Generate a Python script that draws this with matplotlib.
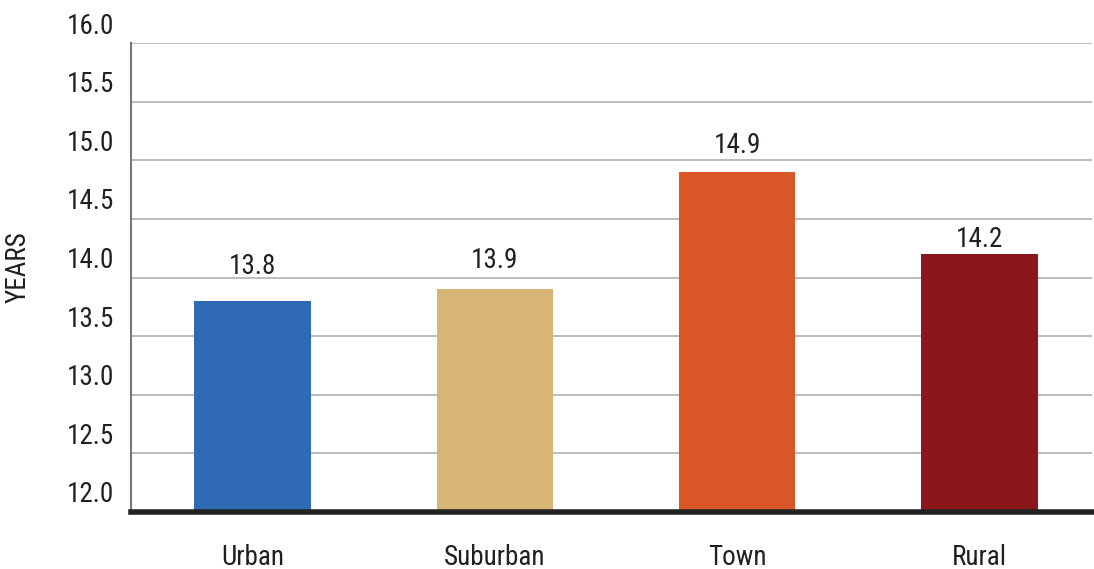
import matplotlib.pyplot as plt
import matplotlib.transforms as mtransforms
from matplotlib import font_manager

categories = ['Urban', 'Suburban', 'Town', 'Rural']
years = [13.8, 13.9, 14.9, 14.2]
colors = ['#2E6BB4', '#D7B577', '#D95627', '#8B161B']
yticks = [12.0, 12.5, 13.0, 13.5, 14.0, 14.5, 15.0, 15.5, 16.0]

# gap in pixels between bar top and the baseline of its value label
label_gap = [27, 21, 19, 7]

names = {f.name for f in font_manager.fontManager.ttflist}
fam = 'DejaVu Sans'
for cand in ['Roboto Condensed', 'Liberation Sans Narrow', 'Archivo Narrow', 'Barlow Condensed']:
    if cand in names:
        fam = cand
        break
plt.rcParams['font.family'] = [fam, 'DejaVu Sans']

txt_color = '#231F20'
fs = 19.5

fig = plt.figure(figsize=(10.94, 5.69), dpi=100)
ax = fig.add_axes([131 / 1094, 1 - 512 / 569, (1092 - 131) / 1094, (512 - 43) / 569])

x = list(range(len(categories)))
ax.bar(x, [v - 12 for v in years], bottom=12, width=0.48, color=colors, zorder=3)
for xi, v, g in zip(x, years, label_gap):
    ax.annotate(f'{v:.1f}', (xi, v), xytext=(0, g * 0.72), textcoords='offset points',
                ha='center', va='baseline', fontsize=fs, color=txt_color)

ax.set_ylim(12, 16)
ax.set_xlim(-0.501, 3.464)
ax.set_yticks(yticks)
ax.set_yticklabels([f'{t:.1f}' for t in yticks], fontsize=fs, color=txt_color)
ax.set_xticks(x)
ax.set_xticklabels(categories, fontsize=fs, color=txt_color)
ax.tick_params(axis='both', length=0)
ax.tick_params(axis='y', pad=12)
ax.tick_params(axis='x', pad=23)

# labels sit above their gridlines in the original
offset = mtransforms.ScaledTranslation(0, 20 / 100, fig.dpi_scale_trans)
for lbl in ax.get_yticklabels():
    lbl.set_transform(lbl.get_transform() + offset)

ax.grid(axis='y', color='#b0b0b0', linewidth=1.2, zorder=0)
ax.spines['top'].set_visible(False)
ax.spines['right'].set_visible(False)
ax.spines['left'].set_color('#777777')
ax.spines['left'].set_linewidth(1.5)
ax.spines['bottom'].set_color('#222222')
ax.spines['bottom'].set_linewidth(4)
ax.spines['bottom'].set_zorder(4)

ax.set_ylabel('YEARS', fontsize=fs, color=txt_color)
ax.yaxis.set_label_coords(-0.103, 0.522)

fig.savefig('out.png', dpi=100)
